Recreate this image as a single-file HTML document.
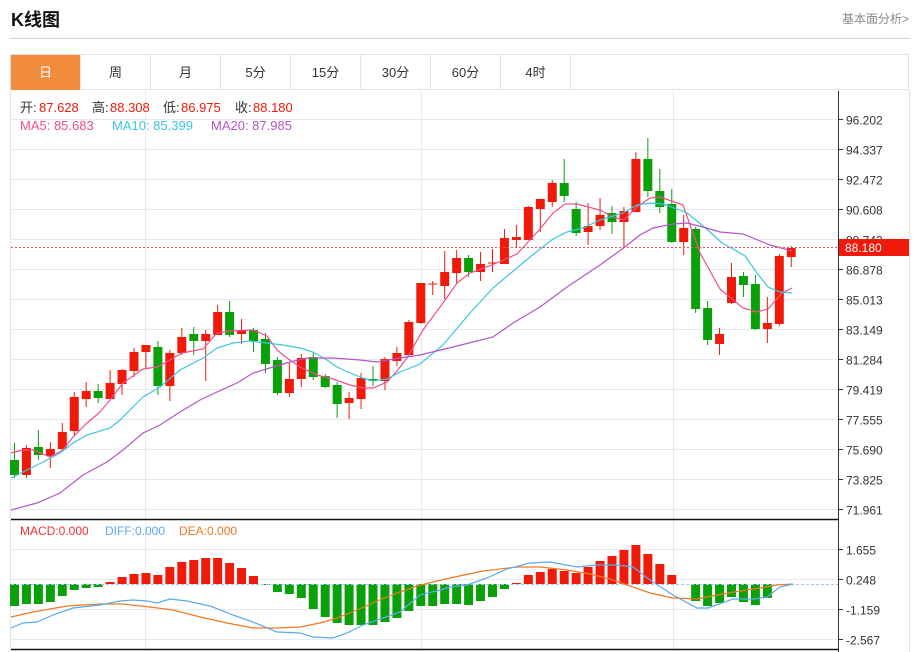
<!DOCTYPE html>
<html><head><meta charset="utf-8"><style>
body{margin:0;width:918px;height:652px;background:#fff;font-family:"Liberation Sans","Noto Sans CJK SC",sans-serif;overflow:hidden;position:relative}
.t{position:absolute;left:11px;top:6px;font-size:18px;font-weight:bold;color:#111}
.r{position:absolute;right:9px;top:10px;font-size:12px;color:#888}
.sep{position:absolute;left:10px;top:38px;width:900px;height:1px;background:#d4d4d4}
.tabs{position:absolute;left:10px;top:54px;width:899px;height:36px;border:1px solid #dde3ea;border-bottom:1px solid #dde3ea;box-sizing:border-box}
.tab{position:absolute;top:0;height:35px;width:70px;border-right:1px solid #dde3ea;text-align:center;line-height:35px;font-size:13px;color:#333;box-sizing:border-box}
svg{position:absolute;left:0;top:0}
</style></head><body>
<div class="t">K线图</div><div class="r">基本面分析&gt;</div>
<div class="sep"></div>
<div class="tabs">
<div class="tab" style="left:0;background:#f08c3c;color:#fff">日</div>
<div class="tab" style="left:70px">周</div><div class="tab" style="left:140px">月</div>
<div class="tab" style="left:210px">5分</div><div class="tab" style="left:280px">15分</div>
<div class="tab" style="left:350px">30分</div><div class="tab" style="left:420px">60分</div>
<div class="tab" style="left:490px">4时</div>
</div>
<svg id="s" width="918" height="652" xmlns="http://www.w3.org/2000/svg"></svg>
<script>
var s='';
function L(x1,y1,x2,y2,c,w,d){s+='<line x1="'+x1+'" y1="'+y1+'" x2="'+x2+'" y2="'+y2+'" stroke="'+c+'" stroke-width="'+(w||1)+'"'+(d?' stroke-dasharray="'+d+'"':'')+'/>';}
function T(x,y,t,c,sz,a){s+='<text x="'+x+'" y="'+y+'" fill="'+c+'" font-size="'+(sz||12)+'"'+(a?' text-anchor="'+a+'"':'')+' font-family="Liberation Sans, Noto Sans CJK SC, sans-serif">'+t+'</text>';}
function P(pts,c){s+='<polyline fill="none" stroke="'+c+'" stroke-width="1.2" points="'+pts.map(p=>p.join(',')).join(' ')+'"/>';}
// frame
L(10.5,90,10.5,652,'#dde3ea');L(909.5,90,909.5,652,'#dde3ea');
// grid main
var lab=['96.202','94.337','92.472','90.608','88.743','86.878','85.013','83.149','81.284','79.419','77.555','75.690','73.825','71.961'];
for(var i=0;i<14;i++){var y=119.5+30*i;L(11,y,838,y,'#e6eaef');L(838,y,843,y,'#333');T(846,y+5,lab[i],'#333',12);}
[145.5,421.5,673.5].forEach(x=>{L(x,91,x,649,'#e6eaef');});
var ml=['1.655','0.248','-1.159','-2.567'];
for(var i=0;i<4;i++){var y=549.5+30*i;L(11,y,838,y,'#e6eaef');L(838,y,843,y,'#333');T(846,y+5,ml[i],'#333',12);}
L(838.5,91,838.5,652,'#333');
L(11,519.5,838,519.5,'#111',1.5);L(11,649.5,838,649.5,'#111',1.5);
// candles: [type(1 red,0 green), bodyTop, bodyBot, hi, lo]
var C=[[0,460,475,443,478],[1,448,475,445,478],[0,447,455,430,460],[1,449,456,442,468],[1,432,449,423,450],[1,397,431,392,435],[1,391,399,382,407],[0,391,398,384,403],[1,383,399,370,399],[1,370,384,369,395],
[1,352,371,348,377],[1,345,352,345,369],[0,347,386,341,395],[1,353,386,350,401],[1,337,353,328,355],[0,334,341,327,355],[1,334,341,330,381],[1,312,335,305,335],[0,312,335,301,337],[1,330,334,319,344],
[0,330,341,328,352],[0,339,364,333,373],[0,360,393,357,395],[1,379,393,363,397],[1,358,379,354,387],[0,357,377,353,380],[0,376,387,374,388],[0,385,404,382,418],[1,398,403,392,419],[1,378,399,373,409],
[0,379,381,366,386],[1,359,381,357,390],[1,353,361,347,366],[1,322,355,320,357],[1,283,323,283,324],[1,283.5,284.5,281,295],[1,272,286,251,299],[1,258,273,250,283],[0,258,272,255,277],[1,264,272,252,281],
[1,262.5,263.5,249,272],[1,238,264,229,264],[1,237,240,225,247],[1,207,240,206,240],[1,199,209,199,232],[1,183,202,180,207],[0,183,196,159,202],[0,209,233,202,236],[1,226,232,203,245],[1,215,226,198,230],
[0,213,222,206,234],[1,211,222,207,247],[1,159,212,152,212],[0,159,191,138,197],[0,191,207,169,213],[0,204,242,189,243],[1,228,242,215,255],[0,229,309,227,313],[0,308,340,301,345],[1,334,344,328,355],
[1,277,303,263,304],[0,276,285,272,297],[0,284,329,275,330],[1,323,329,297,343],[1,256,324,254,326],[1,248,257,246,267]];
var R='#f01a0a',G='#0aa00a';
var H=[606,604,604,602,596,590,588,587,582,577,574,573,575,567,562,560,558,558,563,568,576,585,592,594,598,609,617,623,625,625,625,622,618,611,606,606,604,604,605,601,597,589,583,575,572,569,571,573,567,561,556,550,545,554,564,575,584,601,606,603,597,602,605,598,584,584];
for(var i=0;i<66;i++){var x=14.5+11.95*i,c=C[i],col=c[0]?R:G;
L(x,c[3],x,c[4],col,1);s+='<rect x="'+(x-4.5)+'" y="'+c[1]+'" width="9" height="'+Math.max(1,c[2]-c[1])+'" fill="'+col+'"/>';
var h=H[i];if(Math.abs(h-584)>0.5){var t=Math.min(h,584),b=Math.max(h,584);s+='<rect x="'+(x-4.5)+'" y="'+t+'" width="9" height="'+(b-t)+'" fill="'+(h<584?R:G)+'"/>';}}
// MAs
P([[11,453],[23,450],[33,450],[50,457],[63,450],[73,437],[87,423],[100,412],[110,400],[123,383],[143,369],[157,367],[170,360],[182,353],[203,349],[217,333],[230,331],[253,330],[267,336],[277,350],[287,358],[300,367],[317,375],[333,379],[350,385],[363,388],[373,388],[387,382],[397,371],[407,358],[423,330],[443,303],[457,283],[470,273],[492,265],[517,254],[540,229],[553,213],[565,204],[577,204],[600,210],[613,217],[624,220],[637,207],[650,198],[660,197],[683,205],[700,253],[720,289],[743,308],[757,312],[768,309],[782,293],[792,288]],'#f0508a');
P([[11,478],[27,470],[43,462],[60,453],[73,443],[87,435],[110,428],[120,420],[133,407],[143,397],[160,387],[180,370],[203,358],[217,348],[233,343],[250,341],[267,343],[283,345],[300,348],[313,352],[327,360],[337,367],[350,373],[363,378],[373,381],[387,379],[400,372],[420,364],[443,345],[470,313],[493,288],[530,257],[553,239],[567,232],[583,228],[600,220],[623,213],[637,205],[650,203],[663,204],[677,209],[687,213],[697,221],[710,232],[722,243],[733,249],[745,256],[757,273],[768,287],[780,292],[792,293]],'#3ec6e0');
P([[11,510],[37,503],[60,493],[83,475],[107,462],[123,450],[143,433],[160,425],[180,412],[200,400],[217,392],[237,383],[253,373],[273,367],[290,362],[307,358],[333,358],[360,360],[377,362],[400,358],[420,355],[453,347],[493,337],[513,323],[540,307],[567,287],[600,265],[625,247],[640,235],[653,228],[673,224],[687,223],[703,227],[720,232],[743,234],[770,245],[792,251]],'#b455c8');
// zero line
L(11,584.5,838,584.5,'#9ccbe8',1,'3,2');
P([[11,617],[33,612],[67,606],[100,604],[123,604],[150,607],[173,610],[200,617],[227,623],[253,628],[277,628],[300,627],[320,623],[337,618],[357,610],[377,601],[397,593],[417,586],[437,581],[450,578],[483,571],[517,567],[540,567],[567,570],[590,574],[610,579],[630,586],[650,593],[673,598],[697,599],[717,595],[740,591],[760,588],[777,585],[793,584]],'#f07820');
P([[11,628],[23,623],[37,622],[53,615],[73,608],[100,605],[120,601],[133,600],[147,601],[157,603],[170,599],[187,601],[210,606],[233,615],[253,622],[277,632],[300,633],[313,637],[333,638],[347,633],[363,625],[383,618],[400,612],[420,595],[440,590],[450,587],[467,585],[487,578],[507,569],[530,563],[550,562],[577,567],[597,565],[617,565],[633,567],[650,580],[673,595],[697,608],[708,608],[733,599],[755,599],[767,597],[780,587],[793,584]],'#5aaaf0');
// price line
L(11,247.5,838,247.5,'#f05050',1,'2,2');
s+='<rect x="839" y="239" width="70" height="17" fill="#f01a0a"/>';T(845,252,'88.180','#fff',12);
// legends
T(20,112,'开:','#333',13);T(39,112,'87.628','#f01a0a',13);T(92,112,'高:','#333',13);T(110,112,'88.308','#f01a0a',13);T(163,112,'低:','#333',13);T(181,112,'86.975','#f01a0a',13);T(235,112,'收:','#333',13);T(253,112,'88.180','#f01a0a',13);
T(20,130,'MA5: 85.683','#f0508a',13);T(112,130,'MA10: 85.399','#3ec6e0',13);T(211,130,'MA20: 87.985','#b455c8',13);
T(20,535,'MACD:0.000','#f03030',12);T(105,535,'DIFF:0.000','#5aaaf0',12);T(179,535,'DEA:0.000','#f07820',12);
document.getElementById('s').innerHTML=s;
</script>
</body></html>
